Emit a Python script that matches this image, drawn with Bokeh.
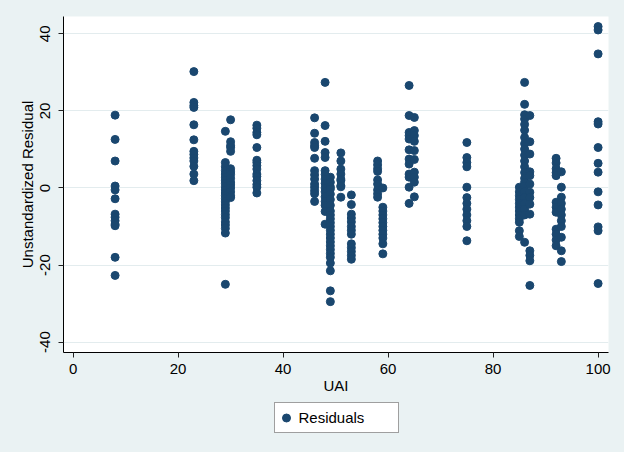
from bokeh.plotting import figure
from bokeh.layouts import column
from bokeh.models import Range1d, FixedTicker, Legend, LegendItem
from bokeh.embed import file_html
from bokeh.resources import INLINE

# UAI score of each country group and the residuals
uai_levels = [8, 23, 29, 30, 35, 46, 48, 49, 51, 53, 58, 59, 64, 65, 75, 85, 86, 87, 92, 93, 100]

res_08 = [18.9, 12.6, 7.0, 0.5, -0.5, -2.8, -6.8, -7.6, -8.5, -9.4, -9.8, -18.0, -22.7]
res_23 = [30.2, 22.2, 21.4, 20.9, 16.4, 12.5, 9.5, 8.7, 7.8, 7.0, 5.6, 3.6, 1.9]
res_29 = [14.7, 6.6, 5.5, 4.5, 3.6, 2.8, 2.0, 1.2, 0.3, -0.5, -1.3, -2.0, -2.8, -3.6,
          -4.4, -5.2, -6.0, -6.9, -7.7, -8.8, -9.6, -10.5, -11.7, -25.0]
res_30 = [17.7, 12.0, 11.0, 10.5, 9.5, 5.0, 4.2, 3.5, 2.5, 1.5, 0.8, 0.0, -1.0, -2.0, -2.5]
res_35 = [16.3, 15.5, 14.4, 13.8, 10.5, 7.2, 6.6, 5.8, 4.9, 3.6, 3.0, 1.9, 0.9, 0.2, -1.3]
res_46 = [18.2, 14.2, 11.8, 11.0, 10.5, 7.7, 4.5, 3.4, 2.3, 1.0, 0.2, -0.7, -1.5, -3.5]
res_48 = [27.4, 16.2, 12.1, 9.2, 7.9, 4.5, 3.5, 2.3, 1.2, 0.0, -1.0, -2.3, -3.5, -4.5, -6.1, -9.4]
res_49 = [2.8, 1.5, 0.3, -0.3, -1.6, -3.0, -4.5, -6.0, -7.0, -8.0, -9.0, -10.0, -11.0, -12.0,
          -13.0, -14.0, -15.0, -16.0, -17.0, -18.0, -19.5, -21.5, -26.7, -29.5]
res_51 = [9.1, 7.0, 4.9, 3.6, 2.3, 1.9, 0.6, 0.3, -2.4]
res_53 = [-1.8, -4.3, -6.8, -7.8, -8.8, -10.0, -11.0, -12.0, -14.5, -15.5, -16.5, -17.5, -18.5]
res_58 = [7.0, 6.0, 5.0, 4.3, 2.1, 1.0, -0.5, -1.5, -2.4]
res_59 = [0.0, -5.0, -6.0, -7.0, -8.0, -9.0, -10.0, -11.0, -12.0, -13.0, -14.5, -17.1]
res_64 = [26.6, 18.8, 14.4, 13.6, 12.7, 9.9, 7.5, 6.2, 3.6, 2.8, 0.2, -4.0]
res_65 = [18.3, 14.9, 13.6, 12.1, 9.7, 7.4, 4.1, 2.8, 1.5, -2.3]
res_75 = [11.8, 7.9, 6.6, 5.5, 0.2, -2.5, -4.0, -5.5, -7.0, -8.5, -10.0, -13.7]
res_85 = [0.2, -1.0, -2.0, -3.0, -4.0, -5.0, -6.0, -7.0, -8.0, -8.9, -11.1, -12.6]
res_86 = [27.4, 21.7, 19.0, 17.9, 16.5, 15.0, 13.1, 11.5, 10.1, 8.5, 7.0, 5.5, 4.0, 2.5,
          1.5, 0.5, -1.0, -2.5, -4.0, -5.5, -7.0, -14.1]
res_87 = [18.8, 12.0, 8.8, 4.2, 3.2, 1.0, -1.1, -2.5, -4.2, -6.8, -16.3, -17.5, -18.9, -25.3]
res_92 = [7.7, 6.5, 5.0, 4.0, 3.2, -3.7, -5.0, -6.3, -10.7, -12.0, -13.5, -15.0]
res_93 = [4.2, 0.2, -2.4, -4.0, -5.5, -7.0, -8.5, -10.0, -12.8, -16.3, -19.1]
res_100 = [41.9, 41.0, 34.8, 17.2, 16.6, 10.5, 6.4, 4.1, -1.0, -4.4, -10.1, -11.1, -24.8]

residual_groups = [res_08, res_23, res_29, res_30, res_35, res_46, res_48, res_49, res_51,
                   res_53, res_58, res_59, res_64, res_65, res_75, res_85, res_86, res_87,
                   res_92, res_93, res_100]

x_ticks = [0, 20, 40, 60, 80, 100]
y_ticks = [-40, -20, 0, 20, 40]
y_tick_labels = ["-40", "-20", "0", "20", "40"]
x_title = "UAI"
y_title = "Unstandardized Residual"
legend_label = "Residuals"

xs, ys = [], []
for u, vals in zip(uai_levels, residual_groups):
    for v in vals:
        xs.append(u)
        ys.append(v)

NAVY = "#1A476F"
BG = "#EAF2F3"
FONT = "Liberation Sans"
W = 624

p = figure(width=W, height=400, output_backend="svg", toolbar_location=None,
           x_range=Range1d(-1.83, 101.98), y_range=Range1d(-42.7, 44.5),
           min_border_left=63, min_border_top=16, min_border_right=16, min_border_bottom=48)
p.background_fill_color = "white"
p.border_fill_color = BG
p.outline_line_color = None

r = p.scatter(xs, ys, size=8, marker="circle", fill_color=NAVY, line_color=NAVY)

p.xgrid.visible = False
p.ygrid.grid_line_color = "#E3ECEE"
p.ygrid.grid_line_width = 1.2

for ax in (p.xaxis[0], p.yaxis[0]):
    ax.axis_line_color = "black"
    ax.axis_line_width = 1
    ax.major_tick_line_color = "#222222"
    ax.major_tick_in = 0
    ax.major_tick_out = 5
    ax.minor_tick_line_color = None
    ax.major_label_text_font = FONT
    ax.major_label_text_font_size = "15px"
    ax.major_label_text_color = "black"
    ax.axis_label_text_font = FONT
    ax.axis_label_text_font_size = "15px"
    ax.axis_label_text_font_style = "normal"
    ax.axis_label_text_color = "black"

p.xaxis[0].ticker = FixedTicker(ticks=x_ticks)
p.yaxis[0].ticker = FixedTicker(ticks=y_ticks)
p.yaxis[0].major_label_overrides = dict(zip(y_ticks, y_tick_labels))
p.xaxis[0].axis_label = x_title
p.yaxis[0].axis_label = y_title
p.xaxis[0].major_label_standoff = 6
p.xaxis[0].axis_label_standoff = 0
p.yaxis[0].major_label_standoff = 8
p.yaxis[0].axis_label_standoff = 2
p.yaxis[0].major_label_orientation = "vertical"

# legend strip below the plot (its frame is aligned with the plot frame above)
q = figure(width=W, height=52, output_backend="svg", toolbar_location=None,
           x_range=Range1d(0, 1), y_range=Range1d(0, 1),
           x_axis_type=None, y_axis_type=None,
           min_border_left=63, min_border_right=16, min_border_top=0, min_border_bottom=0)
q.background_fill_color = BG
q.border_fill_color = BG
q.outline_line_color = None
q.xgrid.visible = False
q.ygrid.visible = False
# legend key renderer: shares the series' first point, which lies outside this strip's ranges
lr = q.scatter(x=xs[:1], y=ys[:1], size=8, marker="circle", fill_color=NAVY, line_color=NAVY)

legend = Legend(items=[LegendItem(label=legend_label, renderers=[lr])],
                location=(210.5, 19.5), orientation="horizontal")
legend.padding = 1
legend.spacing = 0
legend.margin = 0
legend.glyph_width = 20
legend.glyph_height = 27
legend.label_standoff = 3
legend.label_width = 98
legend.label_height = 27
legend.label_text_font = FONT
legend.label_text_font_size = "15px"
legend.label_text_color = "black"
legend.border_line_color = "#404040"
legend.border_line_width = 1
legend.background_fill_color = "white"
legend.background_fill_alpha = 1
q.add_layout(legend, "center")

page = column(p, q, spacing=0, styles={"background-color": BG})
open("out.html", "w").write(file_html(page, INLINE))
